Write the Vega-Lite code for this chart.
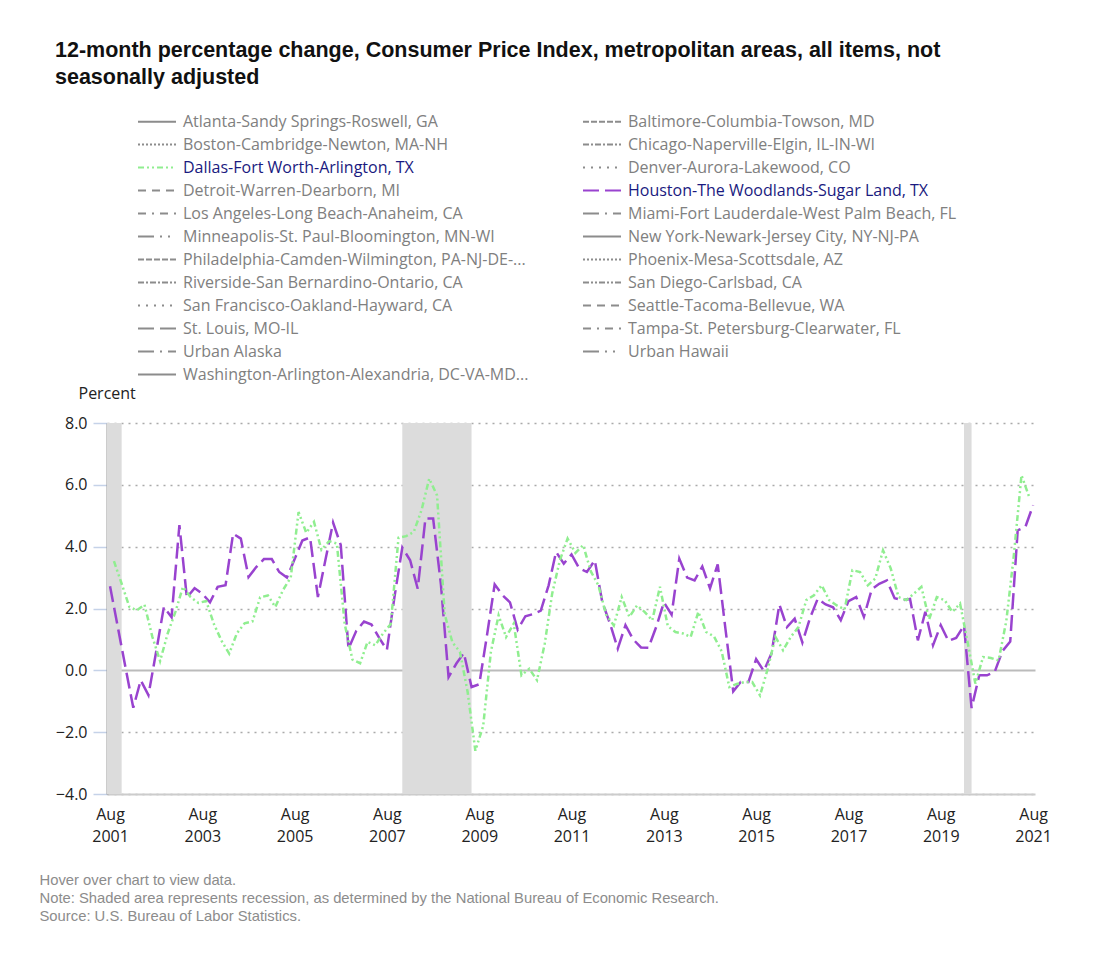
{
"$schema": "https://vega.github.io/schema/vega-lite/v6.json",
"width": 928, "height": 371,
"autosize": {"type": "none"},
"padding": {"left": 107, "top": 423, "right": 62, "bottom": 162},
"background": "white",
"title": {"text": ["12-month percentage change, Consumer Price Index, metropolitan areas, all items, not", "seasonally adjusted"], "anchor": "start", "frame": "group", "dx": -52, "offset": 23, "fontSize": 21.5, "font": "Liberation Sans", "fontWeight": "bold", "color": "#111111", "lineHeight": 27},
"config": {"view": {"stroke": null}, "font": "Open Sans"},
"datasets": {
"recessions": [
{"date": "2001-03-01", "end": "2001-11-01"},
{"date": "2007-12-01", "end": "2009-06-01"},
{"date": "2020-02-01", "end": "2020-04-01"}
],
"cpi": [
{"date":"2001-08-01","city":"Houston-The Woodlands-Sugar Land, TX","value":2.72},
{"date":"2001-10-01","city":"Houston-The Woodlands-Sugar Land, TX","value":1.41},
{"date":"2001-12-01","city":"Houston-The Woodlands-Sugar Land, TX","value":0.1},
{"date":"2002-02-01","city":"Houston-The Woodlands-Sugar Land, TX","value":-1.21},
{"date":"2002-04-01","city":"Houston-The Woodlands-Sugar Land, TX","value":-0.32},
{"date":"2002-06-01","city":"Houston-The Woodlands-Sugar Land, TX","value":-0.8},
{"date":"2002-08-01","city":"Houston-The Woodlands-Sugar Land, TX","value":0.6},
{"date":"2002-10-01","city":"Houston-The Woodlands-Sugar Land, TX","value":2.05},
{"date":"2002-12-01","city":"Houston-The Woodlands-Sugar Land, TX","value":1.72},
{"date":"2003-02-01","city":"Houston-The Woodlands-Sugar Land, TX","value":4.7},
{"date":"2003-04-01","city":"Houston-The Woodlands-Sugar Land, TX","value":2.35},
{"date":"2003-06-01","city":"Houston-The Woodlands-Sugar Land, TX","value":2.66},
{"date":"2003-08-01","city":"Houston-The Woodlands-Sugar Land, TX","value":2.48},
{"date":"2003-10-01","city":"Houston-The Woodlands-Sugar Land, TX","value":2.2},
{"date":"2003-12-01","city":"Houston-The Woodlands-Sugar Land, TX","value":2.7},
{"date":"2004-02-01","city":"Houston-The Woodlands-Sugar Land, TX","value":2.75},
{"date":"2004-04-01","city":"Houston-The Woodlands-Sugar Land, TX","value":4.42},
{"date":"2004-06-01","city":"Houston-The Woodlands-Sugar Land, TX","value":4.26},
{"date":"2004-08-01","city":"Houston-The Woodlands-Sugar Land, TX","value":3.02},
{"date":"2004-10-01","city":"Houston-The Woodlands-Sugar Land, TX","value":3.34},
{"date":"2004-12-01","city":"Houston-The Woodlands-Sugar Land, TX","value":3.6},
{"date":"2005-02-01","city":"Houston-The Woodlands-Sugar Land, TX","value":3.6},
{"date":"2005-04-01","city":"Houston-The Woodlands-Sugar Land, TX","value":3.18},
{"date":"2005-06-01","city":"Houston-The Woodlands-Sugar Land, TX","value":3.0},
{"date":"2005-08-01","city":"Houston-The Woodlands-Sugar Land, TX","value":3.6},
{"date":"2005-10-01","city":"Houston-The Woodlands-Sugar Land, TX","value":4.2},
{"date":"2005-12-01","city":"Houston-The Woodlands-Sugar Land, TX","value":4.3},
{"date":"2006-02-01","city":"Houston-The Woodlands-Sugar Land, TX","value":2.37},
{"date":"2006-04-01","city":"Houston-The Woodlands-Sugar Land, TX","value":3.56},
{"date":"2006-06-01","city":"Houston-The Woodlands-Sugar Land, TX","value":4.78},
{"date":"2006-08-01","city":"Houston-The Woodlands-Sugar Land, TX","value":4.05},
{"date":"2006-10-01","city":"Houston-The Woodlands-Sugar Land, TX","value":0.7},
{"date":"2006-12-01","city":"Houston-The Woodlands-Sugar Land, TX","value":1.27},
{"date":"2007-02-01","city":"Houston-The Woodlands-Sugar Land, TX","value":1.58},
{"date":"2007-04-01","city":"Houston-The Woodlands-Sugar Land, TX","value":1.48},
{"date":"2007-06-01","city":"Houston-The Woodlands-Sugar Land, TX","value":1.05},
{"date":"2007-08-01","city":"Houston-The Woodlands-Sugar Land, TX","value":0.66},
{"date":"2007-10-01","city":"Houston-The Woodlands-Sugar Land, TX","value":2.4},
{"date":"2007-12-01","city":"Houston-The Woodlands-Sugar Land, TX","value":3.97},
{"date":"2008-02-01","city":"Houston-The Woodlands-Sugar Land, TX","value":3.56},
{"date":"2008-04-01","city":"Houston-The Woodlands-Sugar Land, TX","value":2.64},
{"date":"2008-06-01","city":"Houston-The Woodlands-Sugar Land, TX","value":4.91},
{"date":"2008-08-01","city":"Houston-The Woodlands-Sugar Land, TX","value":4.91},
{"date":"2008-10-01","city":"Houston-The Woodlands-Sugar Land, TX","value":2.8},
{"date":"2008-12-01","city":"Houston-The Woodlands-Sugar Land, TX","value":-0.22},
{"date":"2009-02-01","city":"Houston-The Woodlands-Sugar Land, TX","value":0.22},
{"date":"2009-04-01","city":"Houston-The Woodlands-Sugar Land, TX","value":0.56},
{"date":"2009-06-01","city":"Houston-The Woodlands-Sugar Land, TX","value":-0.54},
{"date":"2009-08-01","city":"Houston-The Woodlands-Sugar Land, TX","value":-0.45},
{"date":"2009-10-01","city":"Houston-The Woodlands-Sugar Land, TX","value":1.13},
{"date":"2009-12-01","city":"Houston-The Woodlands-Sugar Land, TX","value":2.78},
{"date":"2010-02-01","city":"Houston-The Woodlands-Sugar Land, TX","value":2.43},
{"date":"2010-04-01","city":"Houston-The Woodlands-Sugar Land, TX","value":2.2},
{"date":"2010-06-01","city":"Houston-The Woodlands-Sugar Land, TX","value":1.32},
{"date":"2010-08-01","city":"Houston-The Woodlands-Sugar Land, TX","value":1.75},
{"date":"2010-10-01","city":"Houston-The Woodlands-Sugar Land, TX","value":1.82},
{"date":"2010-12-01","city":"Houston-The Woodlands-Sugar Land, TX","value":1.93},
{"date":"2011-02-01","city":"Houston-The Woodlands-Sugar Land, TX","value":2.75},
{"date":"2011-04-01","city":"Houston-The Woodlands-Sugar Land, TX","value":3.83},
{"date":"2011-06-01","city":"Houston-The Woodlands-Sugar Land, TX","value":3.45},
{"date":"2011-08-01","city":"Houston-The Woodlands-Sugar Land, TX","value":3.75},
{"date":"2011-10-01","city":"Houston-The Woodlands-Sugar Land, TX","value":3.3},
{"date":"2011-12-01","city":"Houston-The Woodlands-Sugar Land, TX","value":3.18},
{"date":"2012-02-01","city":"Houston-The Woodlands-Sugar Land, TX","value":3.56},
{"date":"2012-04-01","city":"Houston-The Woodlands-Sugar Land, TX","value":2.2},
{"date":"2012-06-01","city":"Houston-The Woodlands-Sugar Land, TX","value":1.51},
{"date":"2012-08-01","city":"Houston-The Woodlands-Sugar Land, TX","value":0.7},
{"date":"2012-10-01","city":"Houston-The Woodlands-Sugar Land, TX","value":1.46},
{"date":"2012-12-01","city":"Houston-The Woodlands-Sugar Land, TX","value":1.0},
{"date":"2013-02-01","city":"Houston-The Woodlands-Sugar Land, TX","value":0.74},
{"date":"2013-04-01","city":"Houston-The Woodlands-Sugar Land, TX","value":0.73},
{"date":"2013-06-01","city":"Houston-The Woodlands-Sugar Land, TX","value":1.4},
{"date":"2013-08-01","city":"Houston-The Woodlands-Sugar Land, TX","value":2.2},
{"date":"2013-10-01","city":"Houston-The Woodlands-Sugar Land, TX","value":1.8},
{"date":"2013-12-01","city":"Houston-The Woodlands-Sugar Land, TX","value":3.61},
{"date":"2014-02-01","city":"Houston-The Woodlands-Sugar Land, TX","value":3.0},
{"date":"2014-04-01","city":"Houston-The Woodlands-Sugar Land, TX","value":2.91},
{"date":"2014-06-01","city":"Houston-The Woodlands-Sugar Land, TX","value":3.36},
{"date":"2014-08-01","city":"Houston-The Woodlands-Sugar Land, TX","value":2.65},
{"date":"2014-10-01","city":"Houston-The Woodlands-Sugar Land, TX","value":3.43},
{"date":"2014-12-01","city":"Houston-The Woodlands-Sugar Land, TX","value":1.35},
{"date":"2015-02-01","city":"Houston-The Woodlands-Sugar Land, TX","value":-0.68},
{"date":"2015-04-01","city":"Houston-The Woodlands-Sugar Land, TX","value":-0.38},
{"date":"2015-06-01","city":"Houston-The Woodlands-Sugar Land, TX","value":-0.38},
{"date":"2015-08-01","city":"Houston-The Woodlands-Sugar Land, TX","value":0.36},
{"date":"2015-10-01","city":"Houston-The Woodlands-Sugar Land, TX","value":-0.02},
{"date":"2015-12-01","city":"Houston-The Woodlands-Sugar Land, TX","value":0.55},
{"date":"2016-02-01","city":"Houston-The Woodlands-Sugar Land, TX","value":2.13},
{"date":"2016-04-01","city":"Houston-The Woodlands-Sugar Land, TX","value":1.4},
{"date":"2016-06-01","city":"Houston-The Woodlands-Sugar Land, TX","value":1.67},
{"date":"2016-08-01","city":"Houston-The Woodlands-Sugar Land, TX","value":0.9},
{"date":"2016-10-01","city":"Houston-The Woodlands-Sugar Land, TX","value":1.7},
{"date":"2016-12-01","city":"Houston-The Woodlands-Sugar Land, TX","value":2.32},
{"date":"2017-02-01","city":"Houston-The Woodlands-Sugar Land, TX","value":2.13},
{"date":"2017-04-01","city":"Houston-The Woodlands-Sugar Land, TX","value":2.04},
{"date":"2017-06-01","city":"Houston-The Woodlands-Sugar Land, TX","value":1.62},
{"date":"2017-08-01","city":"Houston-The Woodlands-Sugar Land, TX","value":2.24},
{"date":"2017-10-01","city":"Houston-The Woodlands-Sugar Land, TX","value":2.37},
{"date":"2017-12-01","city":"Houston-The Woodlands-Sugar Land, TX","value":1.73},
{"date":"2018-02-01","city":"Houston-The Woodlands-Sugar Land, TX","value":2.62},
{"date":"2018-04-01","city":"Houston-The Woodlands-Sugar Land, TX","value":2.8},
{"date":"2018-06-01","city":"Houston-The Woodlands-Sugar Land, TX","value":2.91},
{"date":"2018-08-01","city":"Houston-The Woodlands-Sugar Land, TX","value":2.33},
{"date":"2018-10-01","city":"Houston-The Woodlands-Sugar Land, TX","value":2.27},
{"date":"2018-12-01","city":"Houston-The Woodlands-Sugar Land, TX","value":2.31},
{"date":"2019-02-01","city":"Houston-The Woodlands-Sugar Land, TX","value":0.97},
{"date":"2019-04-01","city":"Houston-The Woodlands-Sugar Land, TX","value":1.89},
{"date":"2019-06-01","city":"Houston-The Woodlands-Sugar Land, TX","value":0.81},
{"date":"2019-08-01","city":"Houston-The Woodlands-Sugar Land, TX","value":1.46},
{"date":"2019-10-01","city":"Houston-The Woodlands-Sugar Land, TX","value":0.95},
{"date":"2019-12-01","city":"Houston-The Woodlands-Sugar Land, TX","value":1.05},
{"date":"2020-02-01","city":"Houston-The Woodlands-Sugar Land, TX","value":1.45},
{"date":"2020-04-01","city":"Houston-The Woodlands-Sugar Land, TX","value":-1.22},
{"date":"2020-06-01","city":"Houston-The Woodlands-Sugar Land, TX","value":-0.16},
{"date":"2020-08-01","city":"Houston-The Woodlands-Sugar Land, TX","value":-0.16},
{"date":"2020-10-01","city":"Houston-The Woodlands-Sugar Land, TX","value":-0.05},
{"date":"2020-12-01","city":"Houston-The Woodlands-Sugar Land, TX","value":0.62},
{"date":"2021-02-01","city":"Houston-The Woodlands-Sugar Land, TX","value":0.93},
{"date":"2021-04-01","city":"Houston-The Woodlands-Sugar Land, TX","value":4.53},
{"date":"2021-06-01","city":"Houston-The Woodlands-Sugar Land, TX","value":4.64},
{"date":"2021-08-01","city":"Houston-The Woodlands-Sugar Land, TX","value":5.34},
{"date":"2001-09-01","city":"Dallas-Fort Worth-Arlington, TX","value":3.53},
{"date":"2001-11-01","city":"Dallas-Fort Worth-Arlington, TX","value":2.8},
{"date":"2002-01-01","city":"Dallas-Fort Worth-Arlington, TX","value":2.05},
{"date":"2002-03-01","city":"Dallas-Fort Worth-Arlington, TX","value":1.94},
{"date":"2002-05-01","city":"Dallas-Fort Worth-Arlington, TX","value":2.12},
{"date":"2002-07-01","city":"Dallas-Fort Worth-Arlington, TX","value":1.1},
{"date":"2002-09-01","city":"Dallas-Fort Worth-Arlington, TX","value":0.3},
{"date":"2002-11-01","city":"Dallas-Fort Worth-Arlington, TX","value":1.2},
{"date":"2003-01-01","city":"Dallas-Fort Worth-Arlington, TX","value":1.9},
{"date":"2003-03-01","city":"Dallas-Fort Worth-Arlington, TX","value":2.7},
{"date":"2003-05-01","city":"Dallas-Fort Worth-Arlington, TX","value":2.37},
{"date":"2003-07-01","city":"Dallas-Fort Worth-Arlington, TX","value":2.18},
{"date":"2003-09-01","city":"Dallas-Fort Worth-Arlington, TX","value":2.24},
{"date":"2003-11-01","city":"Dallas-Fort Worth-Arlington, TX","value":1.5},
{"date":"2004-01-01","city":"Dallas-Fort Worth-Arlington, TX","value":0.95},
{"date":"2004-03-01","city":"Dallas-Fort Worth-Arlington, TX","value":0.54},
{"date":"2004-05-01","city":"Dallas-Fort Worth-Arlington, TX","value":1.2},
{"date":"2004-07-01","city":"Dallas-Fort Worth-Arlington, TX","value":1.52},
{"date":"2004-09-01","city":"Dallas-Fort Worth-Arlington, TX","value":1.58},
{"date":"2004-11-01","city":"Dallas-Fort Worth-Arlington, TX","value":2.36},
{"date":"2005-01-01","city":"Dallas-Fort Worth-Arlington, TX","value":2.42},
{"date":"2005-03-01","city":"Dallas-Fort Worth-Arlington, TX","value":2.05},
{"date":"2005-05-01","city":"Dallas-Fort Worth-Arlington, TX","value":2.6},
{"date":"2005-07-01","city":"Dallas-Fort Worth-Arlington, TX","value":3.0},
{"date":"2005-09-01","city":"Dallas-Fort Worth-Arlington, TX","value":5.12},
{"date":"2005-11-01","city":"Dallas-Fort Worth-Arlington, TX","value":4.45},
{"date":"2006-01-01","city":"Dallas-Fort Worth-Arlington, TX","value":4.8},
{"date":"2006-03-01","city":"Dallas-Fort Worth-Arlington, TX","value":3.9},
{"date":"2006-05-01","city":"Dallas-Fort Worth-Arlington, TX","value":4.18},
{"date":"2006-07-01","city":"Dallas-Fort Worth-Arlington, TX","value":4.1},
{"date":"2006-09-01","city":"Dallas-Fort Worth-Arlington, TX","value":1.5},
{"date":"2006-11-01","city":"Dallas-Fort Worth-Arlington, TX","value":0.35},
{"date":"2007-01-01","city":"Dallas-Fort Worth-Arlington, TX","value":0.23},
{"date":"2007-03-01","city":"Dallas-Fort Worth-Arlington, TX","value":0.92},
{"date":"2007-05-01","city":"Dallas-Fort Worth-Arlington, TX","value":0.81},
{"date":"2007-07-01","city":"Dallas-Fort Worth-Arlington, TX","value":1.19},
{"date":"2007-09-01","city":"Dallas-Fort Worth-Arlington, TX","value":1.5},
{"date":"2007-11-01","city":"Dallas-Fort Worth-Arlington, TX","value":4.29},
{"date":"2008-01-01","city":"Dallas-Fort Worth-Arlington, TX","value":4.34},
{"date":"2008-03-01","city":"Dallas-Fort Worth-Arlington, TX","value":4.48},
{"date":"2008-05-01","city":"Dallas-Fort Worth-Arlington, TX","value":5.18},
{"date":"2008-07-01","city":"Dallas-Fort Worth-Arlington, TX","value":6.2},
{"date":"2008-09-01","city":"Dallas-Fort Worth-Arlington, TX","value":5.66},
{"date":"2008-11-01","city":"Dallas-Fort Worth-Arlington, TX","value":1.8},
{"date":"2009-01-01","city":"Dallas-Fort Worth-Arlington, TX","value":0.9},
{"date":"2009-03-01","city":"Dallas-Fort Worth-Arlington, TX","value":0.6},
{"date":"2009-05-01","city":"Dallas-Fort Worth-Arlington, TX","value":-0.7},
{"date":"2009-07-01","city":"Dallas-Fort Worth-Arlington, TX","value":-2.6},
{"date":"2009-09-01","city":"Dallas-Fort Worth-Arlington, TX","value":-1.8},
{"date":"2009-11-01","city":"Dallas-Fort Worth-Arlington, TX","value":0.6},
{"date":"2010-01-01","city":"Dallas-Fort Worth-Arlington, TX","value":1.78},
{"date":"2010-03-01","city":"Dallas-Fort Worth-Arlington, TX","value":1.08},
{"date":"2010-05-01","city":"Dallas-Fort Worth-Arlington, TX","value":1.51},
{"date":"2010-07-01","city":"Dallas-Fort Worth-Arlington, TX","value":-0.16},
{"date":"2010-09-01","city":"Dallas-Fort Worth-Arlington, TX","value":0.05},
{"date":"2010-11-01","city":"Dallas-Fort Worth-Arlington, TX","value":-0.32},
{"date":"2011-01-01","city":"Dallas-Fort Worth-Arlington, TX","value":0.86},
{"date":"2011-03-01","city":"Dallas-Fort Worth-Arlington, TX","value":2.48},
{"date":"2011-05-01","city":"Dallas-Fort Worth-Arlington, TX","value":3.56},
{"date":"2011-07-01","city":"Dallas-Fort Worth-Arlington, TX","value":4.26},
{"date":"2011-09-01","city":"Dallas-Fort Worth-Arlington, TX","value":3.8},
{"date":"2011-11-01","city":"Dallas-Fort Worth-Arlington, TX","value":4.05},
{"date":"2012-01-01","city":"Dallas-Fort Worth-Arlington, TX","value":3.2},
{"date":"2012-03-01","city":"Dallas-Fort Worth-Arlington, TX","value":2.75},
{"date":"2012-05-01","city":"Dallas-Fort Worth-Arlington, TX","value":1.8},
{"date":"2012-07-01","city":"Dallas-Fort Worth-Arlington, TX","value":1.45},
{"date":"2012-09-01","city":"Dallas-Fort Worth-Arlington, TX","value":2.37},
{"date":"2012-11-01","city":"Dallas-Fort Worth-Arlington, TX","value":1.73},
{"date":"2013-01-01","city":"Dallas-Fort Worth-Arlington, TX","value":2.1},
{"date":"2013-03-01","city":"Dallas-Fort Worth-Arlington, TX","value":1.89},
{"date":"2013-05-01","city":"Dallas-Fort Worth-Arlington, TX","value":1.62},
{"date":"2013-07-01","city":"Dallas-Fort Worth-Arlington, TX","value":2.7},
{"date":"2013-09-01","city":"Dallas-Fort Worth-Arlington, TX","value":1.43},
{"date":"2013-11-01","city":"Dallas-Fort Worth-Arlington, TX","value":1.24},
{"date":"2014-01-01","city":"Dallas-Fort Worth-Arlington, TX","value":1.19},
{"date":"2014-03-01","city":"Dallas-Fort Worth-Arlington, TX","value":1.08},
{"date":"2014-05-01","city":"Dallas-Fort Worth-Arlington, TX","value":1.89},
{"date":"2014-07-01","city":"Dallas-Fort Worth-Arlington, TX","value":1.24},
{"date":"2014-09-01","city":"Dallas-Fort Worth-Arlington, TX","value":1.1},
{"date":"2014-11-01","city":"Dallas-Fort Worth-Arlington, TX","value":0.62},
{"date":"2015-01-01","city":"Dallas-Fort Worth-Arlington, TX","value":-0.54},
{"date":"2015-03-01","city":"Dallas-Fort Worth-Arlington, TX","value":-0.44},
{"date":"2015-05-01","city":"Dallas-Fort Worth-Arlington, TX","value":-0.38},
{"date":"2015-07-01","city":"Dallas-Fort Worth-Arlington, TX","value":-0.38},
{"date":"2015-09-01","city":"Dallas-Fort Worth-Arlington, TX","value":-0.81},
{"date":"2015-11-01","city":"Dallas-Fort Worth-Arlington, TX","value":0.05},
{"date":"2016-01-01","city":"Dallas-Fort Worth-Arlington, TX","value":1.08},
{"date":"2016-03-01","city":"Dallas-Fort Worth-Arlington, TX","value":0.65},
{"date":"2016-05-01","city":"Dallas-Fort Worth-Arlington, TX","value":1.08},
{"date":"2016-07-01","city":"Dallas-Fort Worth-Arlington, TX","value":1.4},
{"date":"2016-09-01","city":"Dallas-Fort Worth-Arlington, TX","value":2.27},
{"date":"2016-11-01","city":"Dallas-Fort Worth-Arlington, TX","value":2.43},
{"date":"2017-01-01","city":"Dallas-Fort Worth-Arlington, TX","value":2.75},
{"date":"2017-03-01","city":"Dallas-Fort Worth-Arlington, TX","value":2.27},
{"date":"2017-05-01","city":"Dallas-Fort Worth-Arlington, TX","value":2.1},
{"date":"2017-07-01","city":"Dallas-Fort Worth-Arlington, TX","value":1.97},
{"date":"2017-09-01","city":"Dallas-Fort Worth-Arlington, TX","value":3.24},
{"date":"2017-11-01","city":"Dallas-Fort Worth-Arlington, TX","value":3.18},
{"date":"2018-01-01","city":"Dallas-Fort Worth-Arlington, TX","value":2.75},
{"date":"2018-03-01","city":"Dallas-Fort Worth-Arlington, TX","value":2.97},
{"date":"2018-05-01","city":"Dallas-Fort Worth-Arlington, TX","value":3.88},
{"date":"2018-07-01","city":"Dallas-Fort Worth-Arlington, TX","value":3.3},
{"date":"2018-09-01","city":"Dallas-Fort Worth-Arlington, TX","value":2.37},
{"date":"2018-11-01","city":"Dallas-Fort Worth-Arlington, TX","value":2.27},
{"date":"2019-01-01","city":"Dallas-Fort Worth-Arlington, TX","value":2.48},
{"date":"2019-03-01","city":"Dallas-Fort Worth-Arlington, TX","value":2.7},
{"date":"2019-05-01","city":"Dallas-Fort Worth-Arlington, TX","value":1.65},
{"date":"2019-07-01","city":"Dallas-Fort Worth-Arlington, TX","value":2.37},
{"date":"2019-09-01","city":"Dallas-Fort Worth-Arlington, TX","value":2.27},
{"date":"2019-11-01","city":"Dallas-Fort Worth-Arlington, TX","value":1.89},
{"date":"2020-01-01","city":"Dallas-Fort Worth-Arlington, TX","value":2.16},
{"date":"2020-03-01","city":"Dallas-Fort Worth-Arlington, TX","value":0.9},
{"date":"2020-05-01","city":"Dallas-Fort Worth-Arlington, TX","value":-0.43},
{"date":"2020-07-01","city":"Dallas-Fort Worth-Arlington, TX","value":0.43},
{"date":"2020-09-01","city":"Dallas-Fort Worth-Arlington, TX","value":0.4},
{"date":"2020-11-01","city":"Dallas-Fort Worth-Arlington, TX","value":0.32},
{"date":"2021-01-01","city":"Dallas-Fort Worth-Arlington, TX","value":1.6},
{"date":"2021-03-01","city":"Dallas-Fort Worth-Arlington, TX","value":3.7},
{"date":"2021-05-01","city":"Dallas-Fort Worth-Arlington, TX","value":6.31},
{"date":"2021-07-01","city":"Dallas-Fort Worth-Arlington, TX","value":5.61}
]
},
"layer": [
{
"data": {"name": "recessions"},
"mark": {"type": "rect", "color": "#dcdcdc", "clip": true},
"encoding": {
"x": {"field": "date", "type": "temporal", "scale": {"type": "utc", "domain": [{"year": 2001, "month": 7, "date": 8, "utc": true}, {"year": 2021, "month": 8, "date": 16, "utc": true}]}, "axis": {
 "values": [{"year":2001,"month":8,"date":1,"utc":true},{"year":2003,"month":8,"date":1,"utc":true},{"year":2005,"month":8,"date":1,"utc":true},{"year":2007,"month":8,"date":1,"utc":true},{"year":2009,"month":8,"date":1,"utc":true},{"year":2011,"month":8,"date":1,"utc":true},{"year":2013,"month":8,"date":1,"utc":true},{"year":2015,"month":8,"date":1,"utc":true},{"year":2017,"month":8,"date":1,"utc":true},{"year":2019,"month":8,"date":1,"utc":true},{"year":2021,"month":8,"date":1,"utc":true}],
 "labelExpr": "[utcFormat(datum.value, '%b'), utcFormat(datum.value, '%Y')]",
 "labelFlush": false, "labelOverlap": false, "labelFont": "Open Sans", "labelFontSize": 16, "labelColor": "#222222", "labelLineHeight": 22, "labelBaseline": "top", "labelPadding": 12,
 "ticks": false, "grid": false, "domainColor": "#cccccc", "domainWidth": 2,
 "title": ["Hover over chart to view data.", "Note: Shaded area represents recession, as determined by the National Bureau of Economic Research.", "Source: U.S. Bureau of Labor Statistics."],
 "titleX": -68, "titleY": 78, "titleAlign": "left", "titleAnchor": "start", "titleBaseline": "top", "titleFont": "Liberation Sans", "titleFontSize": 14.8, "titleFontWeight": "normal", "titleColor": "#8c8c8c", "titleLineHeight": 18
}},
"x2": {"field": "end"}
}
},
{
"data": {"name": "cpi"},
"mark": {"type": "line", "strokeWidth": 2.5, "clip": true},
"encoding": {
"x": {"field": "date", "type": "temporal"},
"y": {"field": "value", "type": "quantitative", "scale": {"domain": [-4, 8], "nice": false, "zero": false}, "axis": {
 "values": [-4, -2, 0, 2, 4, 6, 8], "format": ".1f",
 "labelFont": "Open Sans", "labelFontSize": 16, "labelColor": "#222222", "labelPadding": 6,
 "tickColor": "#c5d2e8", "tickSize": 14, "tickWidth": 1.5,
 "domainColor": "#999999", "domainWidth": 2,
 "grid": true,
 "gridColor": {"condition": {"test": "datum.value === 0", "value": "#bbbbbb"}, "value": "#aaaaaa"},
 "gridDash": {"condition": {"test": "datum.value === 0", "value": []}, "value": [2, 5]},
 "gridWidth": {"condition": {"test": "datum.value === 0", "value": 2}, "value": 1.5},
 "title": "Percent", "titleAngle": 0, "titleX": -29, "titleY": -30, "titleAlign": "left", "titleBaseline": "middle", "titleFont": "Open Sans", "titleFontSize": 16, "titleFontWeight": "normal", "titleColor": "#222222"
}},
"color": {"field": "city", "type": "nominal",
 "scale": {"domain": ["Atlanta-Sandy Springs-Roswell, GA","Baltimore-Columbia-Towson, MD","Boston-Cambridge-Newton, MA-NH","Chicago-Naperville-Elgin, IL-IN-WI","Dallas-Fort Worth-Arlington, TX","Denver-Aurora-Lakewood, CO","Detroit-Warren-Dearborn, MI","Houston-The Woodlands-Sugar Land, TX","Los Angeles-Long Beach-Anaheim, CA","Miami-Fort Lauderdale-West Palm Beach, FL","Minneapolis-St. Paul-Bloomington, MN-WI","New York-Newark-Jersey City, NY-NJ-PA","Philadelphia-Camden-Wilmington, PA-NJ-DE-...","Phoenix-Mesa-Scottsdale, AZ","Riverside-San Bernardino-Ontario, CA","San Diego-Carlsbad, CA","San Francisco-Oakland-Hayward, CA","Seattle-Tacoma-Bellevue, WA","St. Louis, MO-IL","Tampa-St. Petersburg-Clearwater, FL","Urban Alaska","Urban Hawaii","Washington-Arlington-Alexandria, DC-VA-MD..."],
 "range": ["#8c8c8c","#8c8c8c","#8c8c8c","#8c8c8c","#90ee90","#8c8c8c","#8c8c8c","#9943cf","#8c8c8c","#8c8c8c","#8c8c8c","#8c8c8c","#8c8c8c","#8c8c8c","#8c8c8c","#8c8c8c","#8c8c8c","#8c8c8c","#8c8c8c","#8c8c8c","#8c8c8c","#8c8c8c","#8c8c8c"]},
 "legend": {"orient": "none", "legendX": 39.5, "legendY": -312, "direction": "horizontal", "columns": 2, "title": null, "symbolType": "M-2,0H2", "symbolSize": 361, "symbolStrokeWidth": 2, "labelFont": "Open Sans", "labelFontSize": 16, "labelLimit": 600, "labelOffset": 15.5, "rowPadding": 4, "columnPadding": 50, "labelColor": "#808080",
  "encode": {"labels": {"update": {"fill": {"signal": "indexof(['Dallas-Fort Worth-Arlington, TX','Houston-The Woodlands-Sugar Land, TX'], datum.label) >= 0 ? '#1a1a80' : '#808080'"}}}}}
},
"strokeDash": {"field": "city", "type": "nominal",
 "scale": {"domain": ["Atlanta-Sandy Springs-Roswell, GA","Baltimore-Columbia-Towson, MD","Boston-Cambridge-Newton, MA-NH","Chicago-Naperville-Elgin, IL-IN-WI","Dallas-Fort Worth-Arlington, TX","Denver-Aurora-Lakewood, CO","Detroit-Warren-Dearborn, MI","Houston-The Woodlands-Sugar Land, TX","Los Angeles-Long Beach-Anaheim, CA","Miami-Fort Lauderdale-West Palm Beach, FL","Minneapolis-St. Paul-Bloomington, MN-WI","New York-Newark-Jersey City, NY-NJ-PA","Philadelphia-Camden-Wilmington, PA-NJ-DE-...","Phoenix-Mesa-Scottsdale, AZ","Riverside-San Bernardino-Ontario, CA","San Diego-Carlsbad, CA","San Francisco-Oakland-Hayward, CA","Seattle-Tacoma-Bellevue, WA","St. Louis, MO-IL","Tampa-St. Petersburg-Clearwater, FL","Urban Alaska","Urban Hawaii","Washington-Arlington-Alexandria, DC-VA-MD..."],
 "range": [[1,0],[6,2],[2,2],[6,2,2,2],[6,3,2,3,2,3],[2,6],[8,6],[16,6],[8,6,2,6],[16,6,2,6],[16,6,2,6,2,6],[1,0],[6,2],[2,2],[6,2,2,2],[6,2,2,2,2,2],[2,6],[8,6],[16,6],[8,6,2,6],[16,6,2,6],[16,6,2,6,2,6],[1,0]]},
 "legend": {"orient": "none", "legendX": 39.5, "legendY": -312, "direction": "horizontal", "columns": 2, "title": null, "symbolType": "M-2,0H2", "symbolSize": 361, "symbolStrokeWidth": 2, "labelFont": "Open Sans", "labelFontSize": 16, "labelLimit": 600, "labelOffset": 15.5, "rowPadding": 4, "columnPadding": 50, "labelColor": "#808080",
  "encode": {"labels": {"update": {"fill": {"signal": "indexof(['Dallas-Fort Worth-Arlington, TX','Houston-The Woodlands-Sugar Land, TX'], datum.label) >= 0 ? '#1a1a80' : '#808080'"}}}}}
}
}
}
]
}
